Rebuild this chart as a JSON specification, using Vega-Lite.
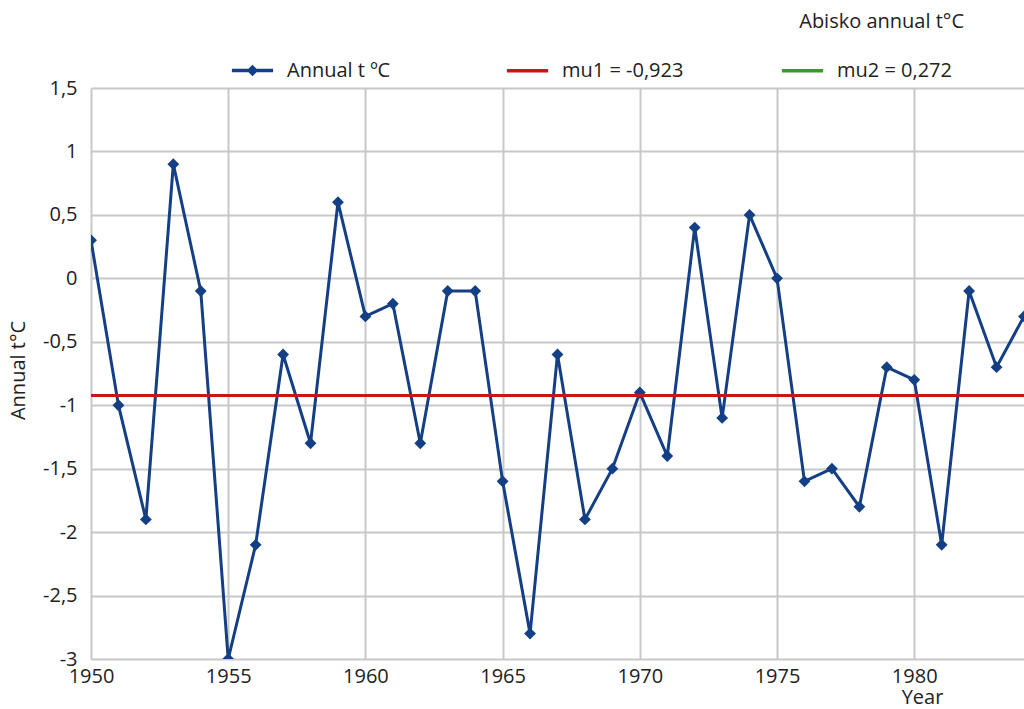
{
  "$schema": "https://vega.github.io/schema/vega-lite/v6.json",
  "width": 933,
  "height": 571,
  "autosize": {"type": "none"},
  "padding": {"left": 91, "top": 88, "right": 0, "bottom": 50},
  "background": "white",
  "title": {
    "text": "Abisko annual t°C",
    "anchor": "end",
    "frame": "group",
    "orient": "top",
    "dx": -60,
    "offset": 16,
    "font": "Open Sans",
    "fontSize": 20,
    "fontWeight": "normal",
    "color": "#222222"
  },
  "config": {
    "view": {"stroke": null},
    "font": "Open Sans",
    "axis": {
      "labelFont": "Open Sans",
      "labelFontSize": 20,
      "labelColor": "#222222",
      "titleFont": "Open Sans",
      "titleFontSize": 20,
      "titleFontWeight": "normal",
      "titleColor": "#222222",
      "gridColor": "#c8c8c8",
      "gridWidth": 2,
      "domain": false,
      "ticks": false
    },
    "legend": {
      "labelFont": "Open Sans",
      "labelFontSize": 20,
      "labelColor": "#222222"
    }
  },
  "datasets": {
    "annual": [
      {"year": 1950, "t": 0.3, "series": "Annual t ºC"},
      {"year": 1951, "t": -1.0, "series": "Annual t ºC"},
      {"year": 1952, "t": -1.9, "series": "Annual t ºC"},
      {"year": 1953, "t": 0.9, "series": "Annual t ºC"},
      {"year": 1954, "t": -0.1, "series": "Annual t ºC"},
      {"year": 1955, "t": -3.0, "series": "Annual t ºC"},
      {"year": 1956, "t": -2.1, "series": "Annual t ºC"},
      {"year": 1957, "t": -0.6, "series": "Annual t ºC"},
      {"year": 1958, "t": -1.3, "series": "Annual t ºC"},
      {"year": 1959, "t": 0.6, "series": "Annual t ºC"},
      {"year": 1960, "t": -0.3, "series": "Annual t ºC"},
      {"year": 1961, "t": -0.2, "series": "Annual t ºC"},
      {"year": 1962, "t": -1.3, "series": "Annual t ºC"},
      {"year": 1963, "t": -0.1, "series": "Annual t ºC"},
      {"year": 1964, "t": -0.1, "series": "Annual t ºC"},
      {"year": 1965, "t": -1.6, "series": "Annual t ºC"},
      {"year": 1966, "t": -2.8, "series": "Annual t ºC"},
      {"year": 1967, "t": -0.6, "series": "Annual t ºC"},
      {"year": 1968, "t": -1.9, "series": "Annual t ºC"},
      {"year": 1969, "t": -1.5, "series": "Annual t ºC"},
      {"year": 1970, "t": -0.9, "series": "Annual t ºC"},
      {"year": 1971, "t": -1.4, "series": "Annual t ºC"},
      {"year": 1972, "t": 0.4, "series": "Annual t ºC"},
      {"year": 1973, "t": -1.1, "series": "Annual t ºC"},
      {"year": 1974, "t": 0.5, "series": "Annual t ºC"},
      {"year": 1975, "t": 0.0, "series": "Annual t ºC"},
      {"year": 1976, "t": -1.6, "series": "Annual t ºC"},
      {"year": 1977, "t": -1.5, "series": "Annual t ºC"},
      {"year": 1978, "t": -1.8, "series": "Annual t ºC"},
      {"year": 1979, "t": -0.7, "series": "Annual t ºC"},
      {"year": 1980, "t": -0.8, "series": "Annual t ºC"},
      {"year": 1981, "t": -2.1, "series": "Annual t ºC"},
      {"year": 1982, "t": -0.1, "series": "Annual t ºC"},
      {"year": 1983, "t": -0.7, "series": "Annual t ºC"},
      {"year": 1984, "t": -0.3, "series": "Annual t ºC"}
    ],
    "means": [
      {"t": -0.923, "series": "mu1 = -0,923"}
    ]
  },
  "layer": [
    {
      "data": {"name": "annual"},
      "mark": {"type": "line", "strokeWidth": 3, "clip": true},
      "encoding": {
        "x": {
          "field": "year",
          "type": "quantitative",
          "scale": {"domain": [1950, 1984], "nice": false, "zero": false},
          "axis": {
            "values": [1950, 1955, 1960, 1965, 1970, 1975, 1980],
            "format": "d",
            "labelPadding": 7,
            "labelFlush": false,
            "title": "Year",
            "titleX": 831,
            "titleY": 44,
            "titleAlign": "center",
            "titleBaseline": "alphabetic"
          }
        },
        "y": {
          "field": "t",
          "type": "quantitative",
          "scale": {"domain": [-3, 1.5], "nice": false, "zero": false},
          "axis": {
            "values": [1.5, 1, 0.5, 0, -0.5, -1, -1.5, -2, -2.5, -3],
            "labelExpr": "replace(toString(datum.value), '.', ',')",
            "labelPadding": 14,
            "title": "Annual t°C",
            "titleX": -73,
            "titleY": 282,
            "titleAngle": -90,
            "titleAlign": "center",
            "titleBaseline": "middle"
          }
        },
        "color": {
          "field": "series",
          "type": "nominal",
          "scale": {
            "domain": ["Annual t ºC", "mu1 = -0,923", "mu2 = 0,272"],
            "range": ["#143f84", "#c8151b", "#3f9628"]
          },
          "legend": {
            "title": null,
            "orient": "none",
            "direction": "horizontal",
            "legendX": 139,
            "legendY": -40,
            "gridAlign": "all",
            "columnPadding": 90,
            "symbolSize": 1700,
            "symbolStrokeWidth": 3,
            "labelOffset": 12,
            "padding": 0,
            "encode": {
              "symbols": {
                "update": {
                  "shape": {"signal": "datum.value === 'Annual t ºC' ? 'M-1,0L1,0M0,-0.16L0.16,0L0,0.16L-0.16,0Z' : 'stroke'"},
                  "fill": {"signal": "datum.value === 'Annual t ºC' ? scale('color', datum.value) : 'transparent'"},
                  "stroke": {"signal": "scale('color', datum.value)"},
                  "strokeWidth": {"value": 3.5}
                }
              }
            }
          }
        }
      }
    },
    {
      "data": {"name": "annual"},
      "mark": {"type": "point", "shape": "diamond", "filled": true, "size": 140, "opacity": 1, "clip": true},
      "encoding": {
        "x": {"field": "year", "type": "quantitative"},
        "y": {"field": "t", "type": "quantitative"},
        "color": {"field": "series", "type": "nominal"}
      }
    },
    {
      "data": {"name": "means"},
      "mark": {"type": "rule", "strokeWidth": 3},
      "encoding": {
        "y": {"field": "t", "type": "quantitative"},
        "color": {"field": "series", "type": "nominal"}
      }
    }
  ]
}
